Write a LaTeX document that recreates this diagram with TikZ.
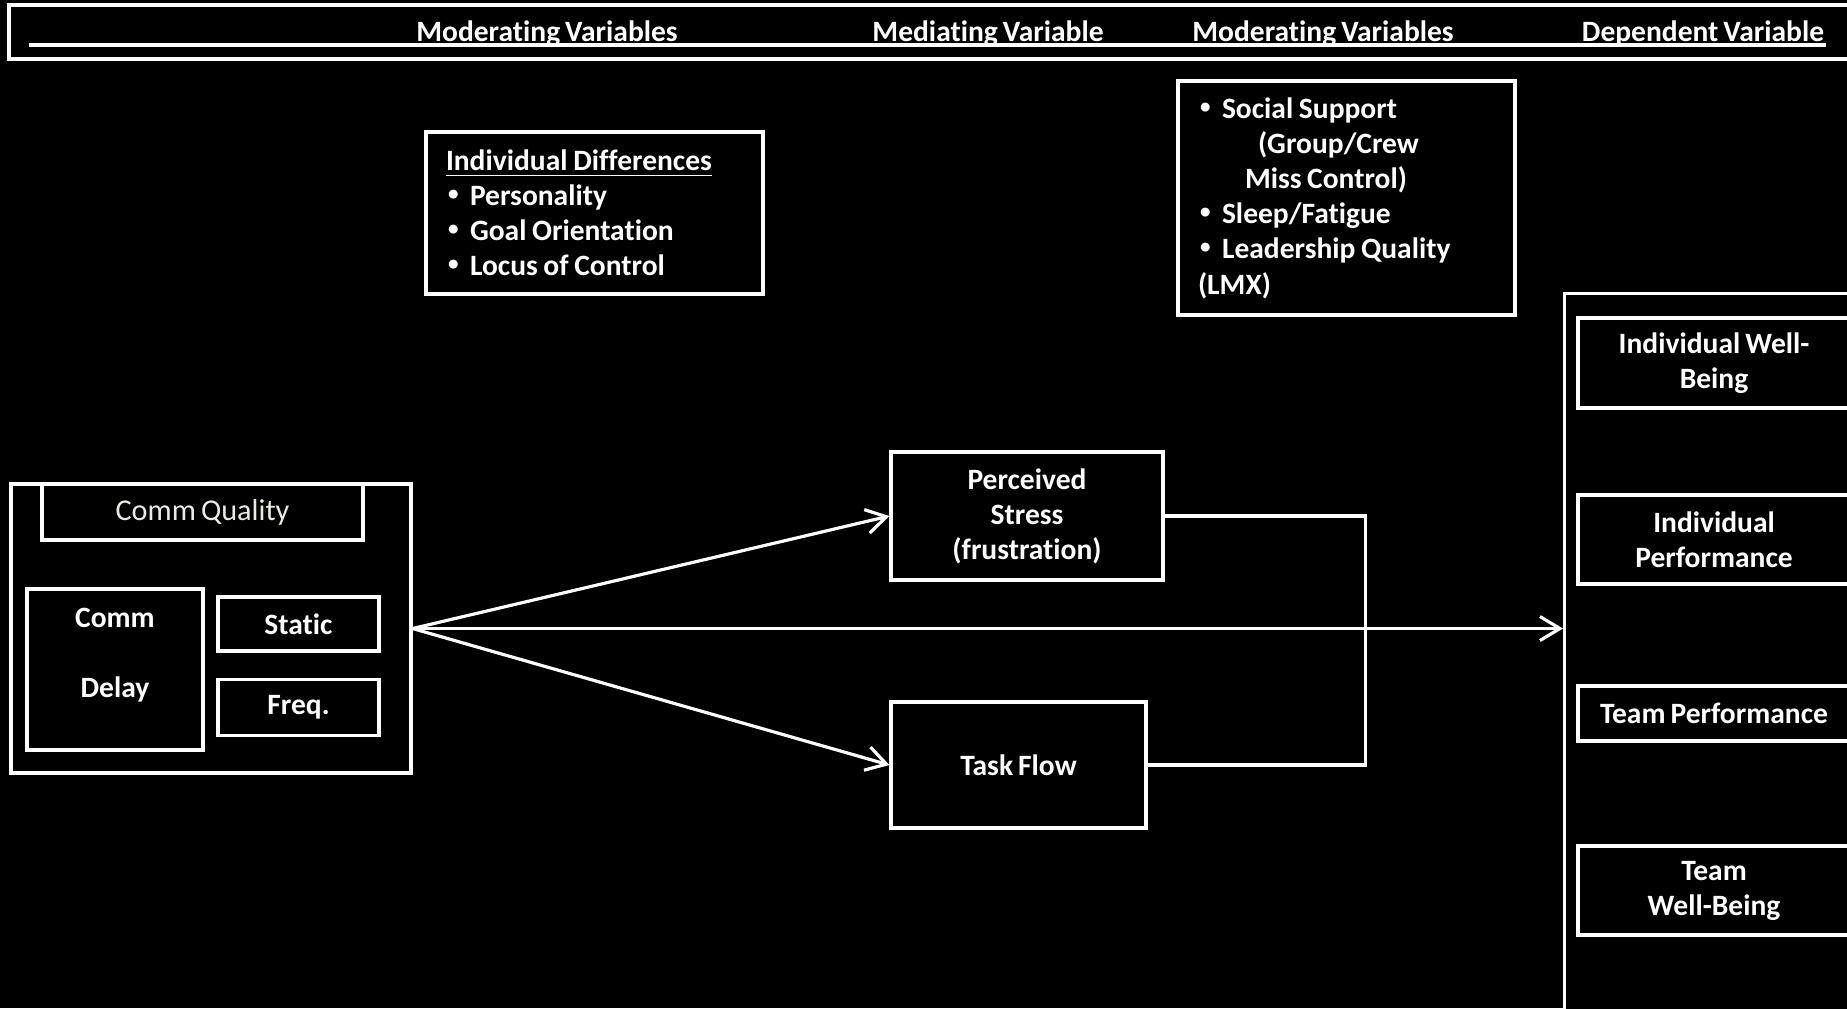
\documentclass[tikz,border=0pt]{standalone}
\usepackage{fontspec}
\setmainfont{Carlito}[RawFeature={-liga;-clig}, WordSpace=0.75]
\usetikzlibrary{positioning}
\usetikzlibrary{arrows.meta}
\definecolor{cream}{HTML}{EEECE1}
\newcommand{\bul}{\makebox[2.4mm][l]{\hspace*{0.2mm}\raisebox{0.35ex}{\fontsize{6}{6}\selectfont\textbullet}}}
\newcommand{\tightsp}{\spaceskip=0.19em\relax}

\begin{document}
\begin{tikzpicture}[x=0.1mm, y=-0.1mm,
    every node/.style={text=white, font=\bfseries\fontsize{8.4}{10}\selectfont, align=center, inner sep=0pt},
    box/.style={draw=white, line width=0.9pt, fill=black},
    listbox/.style={box, minimum width=33.7mm, text width=29.7mm, align=left, inner xsep=2mm, execute at begin node=\tightsp},
    wire/.style={draw=white, line width=0.9pt},
    flow/.style={wire, -{Straight Barb[length=2mm, width=2.4mm]}}]

    \useasboundingbox (0,0) rectangle (1847,1008);
    \fill[black] (0,0) rectangle (1847,1008);

    \draw[wire] (9,5) rectangle (1870,59);
    \draw[wire] (29,45) -- (1826,45);
    \node[anchor=base] (modleft) at (547,41) {Moderating Variables};
    \node[anchor=base] (medhead) at (988,41) {Mediating Variable};
    \node[anchor=base] (modright) at (1323,41) {Moderating Variables};
    \node[anchor=base] (dephead) at (1703,41) {Dependent Variable};

    \node[listbox, minimum height=16.2mm] (indiv) at (594.5,213)
        {\underline{Individual Differences}\\ \bul Personality\\ \bul Goal Orientation\\ \bul Locus of Control};
    \node[listbox, minimum height=23.4mm] (social) at (1346.5,198)
        {\bul Social Support\\ \hspace*{6mm}(Group/Crew\\ \hspace*{4.7mm}Miss Control)\\ \bul Sleep/Fatigue\\ \bul Leadership Quality\\ (LMX)};

    \node[box, minimum width=40mm, minimum height=28.9mm] (cq) at (211,628.5) {};
    \node[box, minimum width=32.1mm, minimum height=5.6mm, font=\fontsize{8.6}{10}\selectfont, text=cream] (cqtitle) at (202.5,512) {Comm Quality};
    \node[box, minimum width=17.6mm, minimum height=16.1mm] (delay) at (115,669.5) {};
    \node (delaytxt) at (115,655) {Comm\\[3.5mm]Delay};
    \node[box, minimum width=16.1mm, minimum height=5.4mm] (static) at (298.5,624) {Static};
    \node[box, minimum width=16.1mm, minimum height=5.6mm, below=2.5mm of static] (freq) {Freq.};

    \node[box, minimum width=27.2mm, minimum height=12.8mm] (stress) at (1027,516) {Perceived\\Stress\\(frustration)};
    \node[box, minimum width=25.5mm, minimum height=12.6mm] (task) at (1018.5,765) {Task Flow};

    \node[box, minimum width=31mm, minimum height=75mm, anchor=north west] (dv) at (1563,292) {};
    \node[box, minimum width=27.2mm, minimum height=9mm] (indwell) at (1714,363) {Individual Well-\\Being};
    \node[box, minimum width=27.2mm, minimum height=8.9mm] (indperf) at (1714,539.5) {Individual\\Performance};
    \node[box, minimum width=27.2mm, minimum height=5.5mm] (teamperf) at (1714,713.5) {Team Performance};
    \node[box, minimum width=27.2mm, minimum height=8.9mm] (teamwell) at (1714,890.5) {Team\\Well-Being};

    \draw[flow] (cq.east) -- (stress.west);
    \draw[flow] (cq.east) -- (task.west);
    \draw[flow] (cq.east) -- (cq.east -| dv.west);
    \draw[wire] (stress.east) -- ++(201,0) |- (task.east);
\end{tikzpicture}
\end{document}
